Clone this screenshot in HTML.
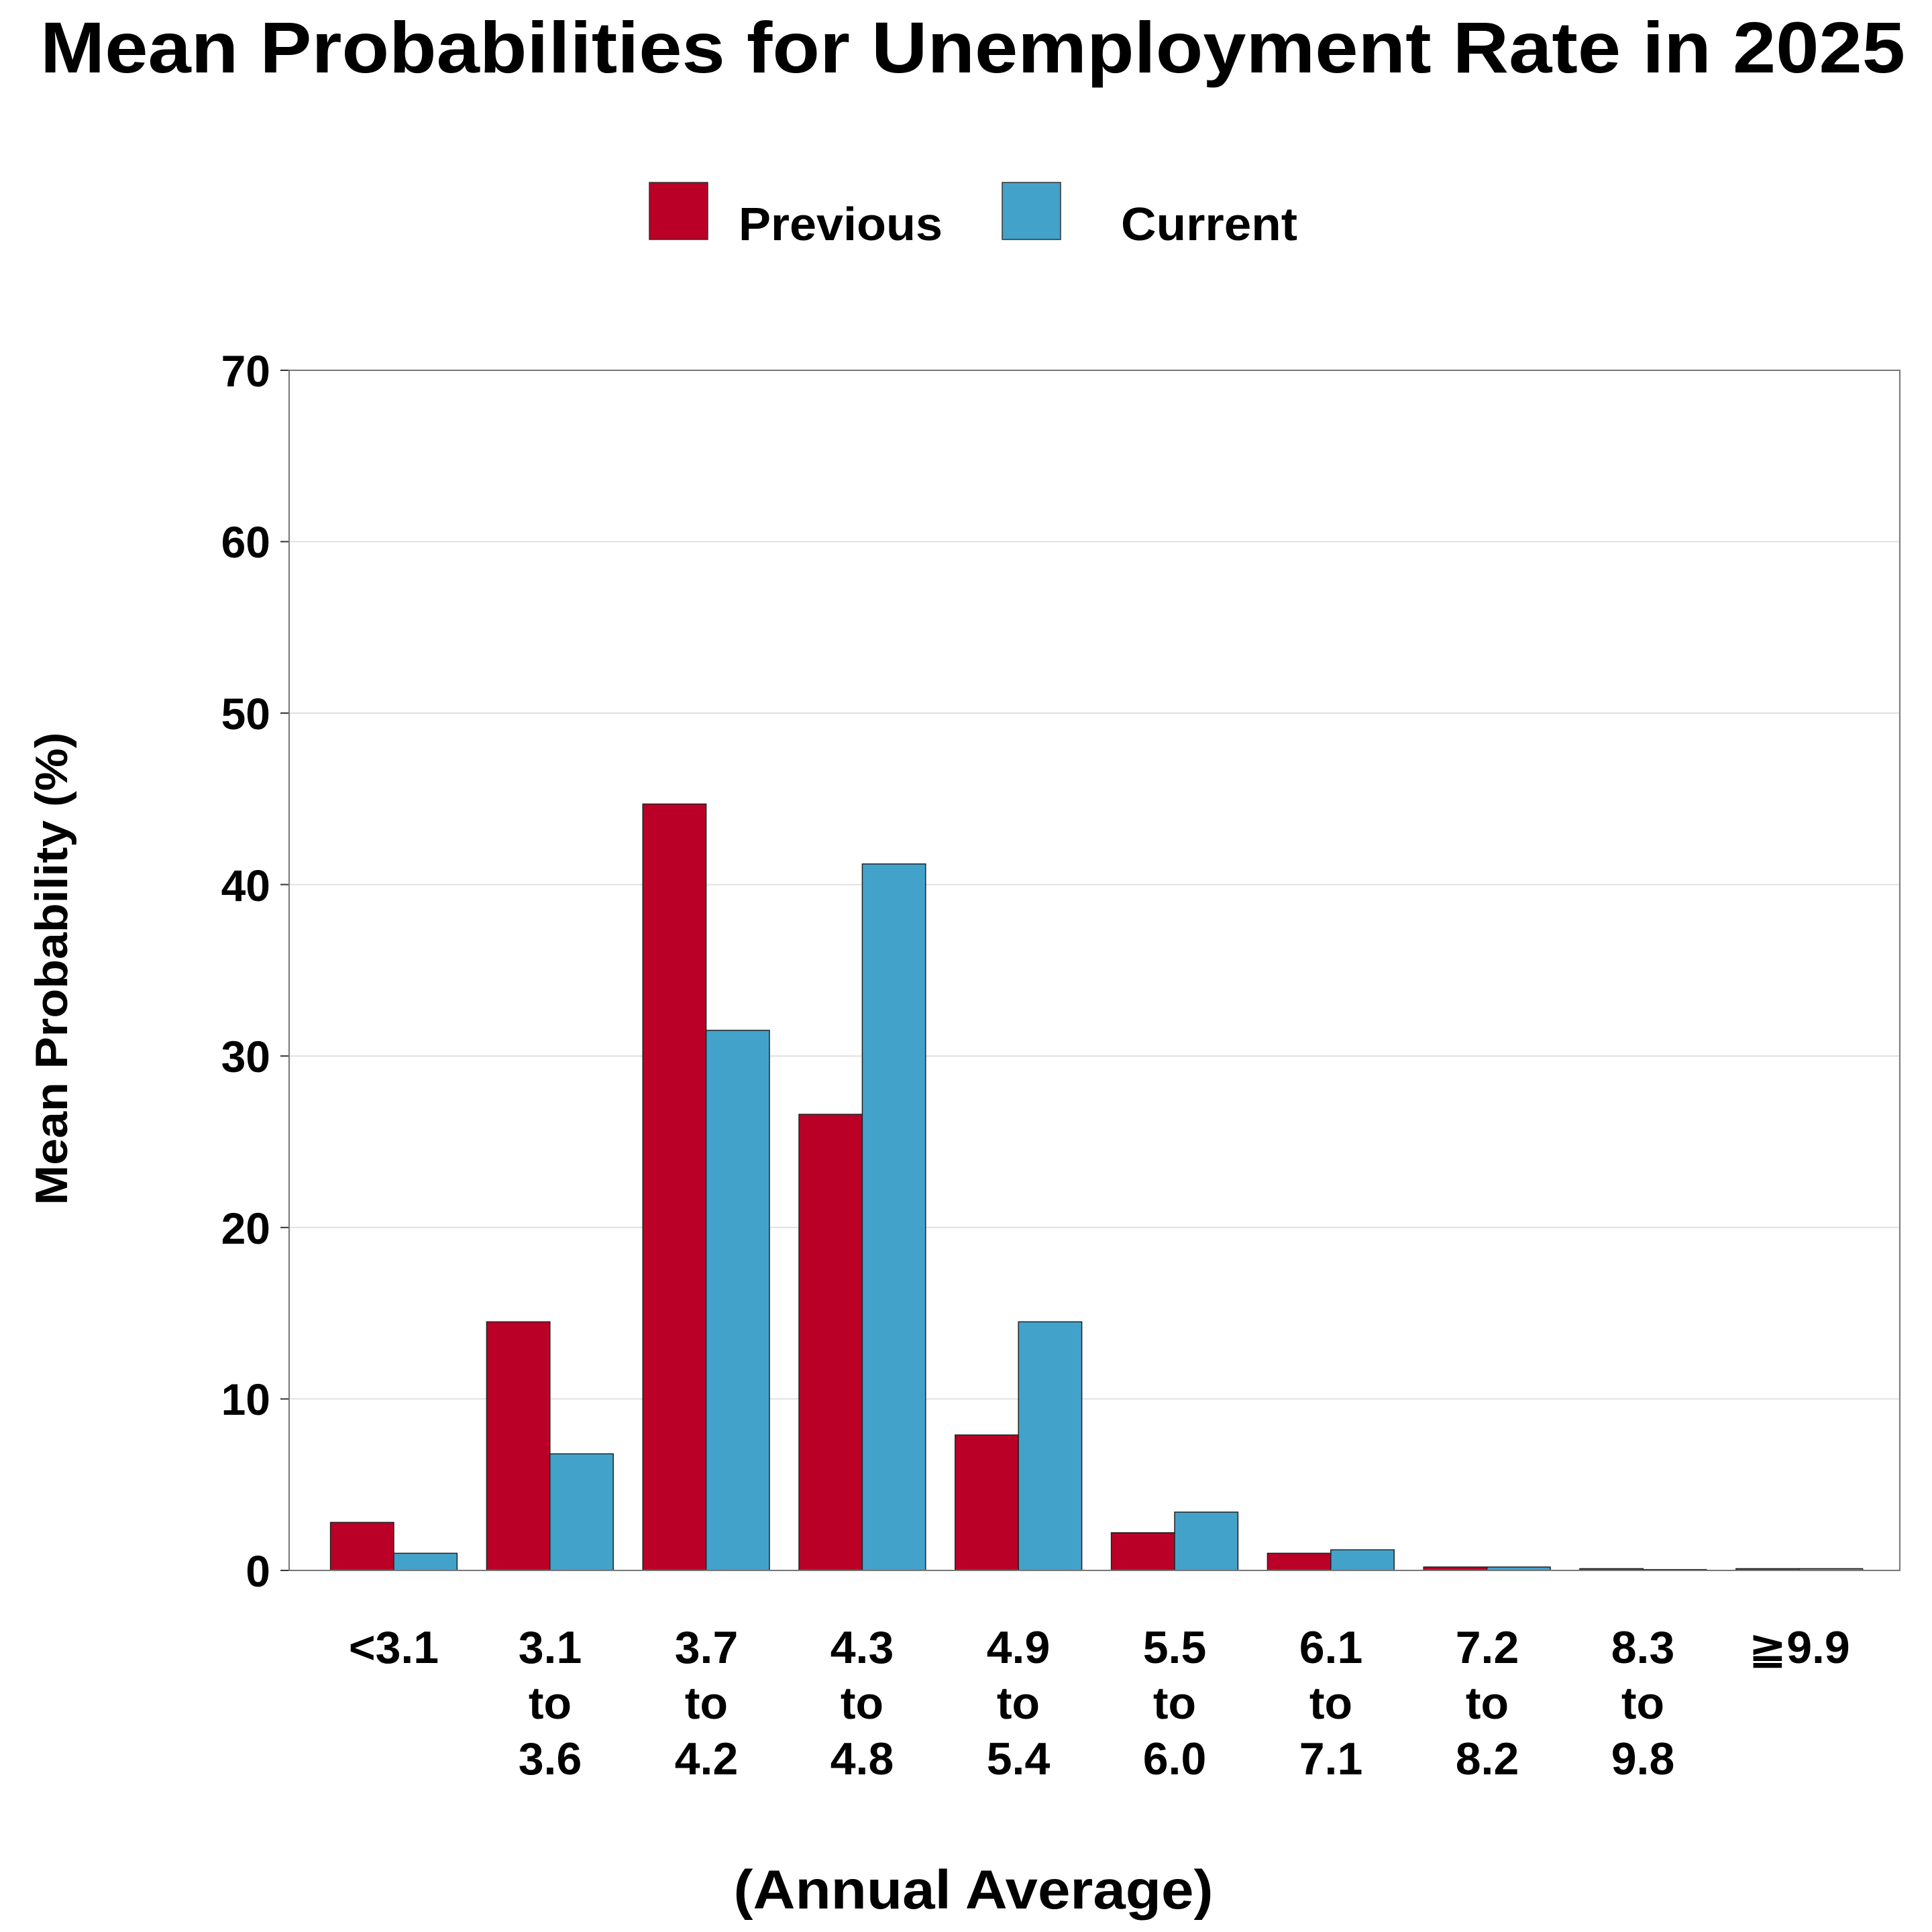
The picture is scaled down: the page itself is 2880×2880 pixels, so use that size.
<!DOCTYPE html>
<html><head><meta charset="utf-8"><style>
html,body{margin:0;padding:0;background:#fff;}
svg{display:block;}
text{font-family:"Liberation Sans","DejaVu Sans",sans-serif;font-weight:bold;fill:#000;}
</style></head><body>
<svg width="2880" height="2880" viewBox="0 0 2880 2880" xmlns="http://www.w3.org/2000/svg">
<text x="1450" y="108" font-size="108" text-anchor="middle" textLength="2780" lengthAdjust="spacingAndGlyphs">Mean Probabilities for Unemployment Rate in 2025</text>
<rect x="968" y="272" width="87" height="85" fill="#BA0027" stroke="#333" stroke-width="1.5"/>
<text x="1101" y="358" font-size="70" textLength="304" lengthAdjust="spacingAndGlyphs">Previous</text>
<rect x="1494" y="272" width="87" height="85" fill="#43A2CA" stroke="#333" stroke-width="1.5"/>
<text x="1671" y="358" font-size="70" textLength="263" lengthAdjust="spacingAndGlyphs">Current</text>
<g stroke="#e0e0e0" stroke-width="2">
<line x1="431" x2="2832" y1="2085.4" y2="2085.4"/>
<line x1="431" x2="2832" y1="1829.8" y2="1829.8"/>
<line x1="431" x2="2832" y1="1574.2" y2="1574.2"/>
<line x1="431" x2="2832" y1="1318.6" y2="1318.6"/>
<line x1="431" x2="2832" y1="1063" y2="1063"/>
<line x1="431" x2="2832" y1="807.4" y2="807.4"/>
</g>
<g stroke="#333" stroke-width="2">
<line x1="418" x2="431" y1="2341" y2="2341"/>
<line x1="418" x2="431" y1="2085.4" y2="2085.4"/>
<line x1="418" x2="431" y1="1829.8" y2="1829.8"/>
<line x1="418" x2="431" y1="1574.2" y2="1574.2"/>
<line x1="418" x2="431" y1="1318.6" y2="1318.6"/>
<line x1="418" x2="431" y1="1063" y2="1063"/>
<line x1="418" x2="431" y1="807.4" y2="807.4"/>
<line x1="418" x2="431" y1="552" y2="552"/>
</g>
<g font-size="66" text-anchor="end">
<text x="403" y="2365">0</text>
<text x="403" y="2109">10</text>
<text x="403" y="1854">20</text>
<text x="403" y="1598">30</text>
<text x="403" y="1343">40</text>
<text x="403" y="1087">50</text>
<text x="403" y="831">60</text>
<text x="403" y="576">70</text>
</g>
<g stroke="#222" stroke-width="1.5">
<g fill="#BA0027">
<rect x="492.6" y="2269.4" width="94.4" height="71.6"/>
<rect x="725.4" y="1970.4" width="94.4" height="370.6"/>
<rect x="958.2" y="1198.5" width="94.4" height="1142.5"/>
<rect x="1191" y="1661.1" width="94.4" height="679.9"/>
<rect x="1423.8" y="2139.1" width="94.4" height="201.9"/>
<rect x="1656.6" y="2284.8" width="94.4" height="56.2"/>
<rect x="1889.4" y="2315.4" width="94.4" height="25.6"/>
<rect x="2122.2" y="2335.9" width="94.4" height="5.1"/>
<rect x="2355" y="2338.4" width="94.4" height="2.6"/>
<rect x="2587.8" y="2338.4" width="94.4" height="2.6"/>
</g>
<g fill="#43A2CA">
<rect x="587" y="2315.4" width="94.4" height="25.6"/>
<rect x="819.8" y="2167.2" width="94.4" height="173.8"/>
<rect x="1052.6" y="1535.9" width="94.4" height="805.1"/>
<rect x="1285.4" y="1287.9" width="94.4" height="1053.1"/>
<rect x="1518.2" y="1970.4" width="94.4" height="370.6"/>
<rect x="1751" y="2254.1" width="94.4" height="86.9"/>
<rect x="1983.8" y="2310.3" width="94.4" height="30.7"/>
<rect x="2216.6" y="2335.9" width="94.4" height="5.1"/>
<rect x="2449.4" y="2339.7" width="94.4" height="1.3"/>
<rect x="2682.2" y="2338.4" width="94.4" height="2.6"/>
</g>
</g>
<rect x="431" y="552" width="2401" height="1789" fill="none" stroke="#777" stroke-width="2"/>
<g font-size="68" text-anchor="middle">
<text x="587" y="2479">&lt;3.1</text>
<text x="820" y="2479">3.1</text><text x="820" y="2562">to</text><text x="820" y="2645">3.6</text>
<text x="1053" y="2479">3.7</text><text x="1053" y="2562">to</text><text x="1053" y="2645">4.2</text>
<text x="1285" y="2479">4.3</text><text x="1285" y="2562">to</text><text x="1285" y="2645">4.8</text>
<text x="1518" y="2479">4.9</text><text x="1518" y="2562">to</text><text x="1518" y="2645">5.4</text>
<text x="1751" y="2479">5.5</text><text x="1751" y="2562">to</text><text x="1751" y="2645">6.0</text>
<text x="1984" y="2479">6.1</text><text x="1984" y="2562">to</text><text x="1984" y="2645">7.1</text>
<text x="2217" y="2479">7.2</text><text x="2217" y="2562">to</text><text x="2217" y="2645">8.2</text>
<text x="2449" y="2479">8.3</text><text x="2449" y="2562">to</text><text x="2449" y="2645">9.8</text>
<text x="2682" y="2479">≧9.9</text>
</g>
<text x="1451" y="2845" font-size="82" text-anchor="middle" textLength="715" lengthAdjust="spacingAndGlyphs">(Annual Average)</text>
<text transform="translate(100,1444) rotate(-90)" x="0" y="0" font-size="68" text-anchor="middle" textLength="705" lengthAdjust="spacingAndGlyphs">Mean Probability (%)</text>
</svg>
</body></html>
